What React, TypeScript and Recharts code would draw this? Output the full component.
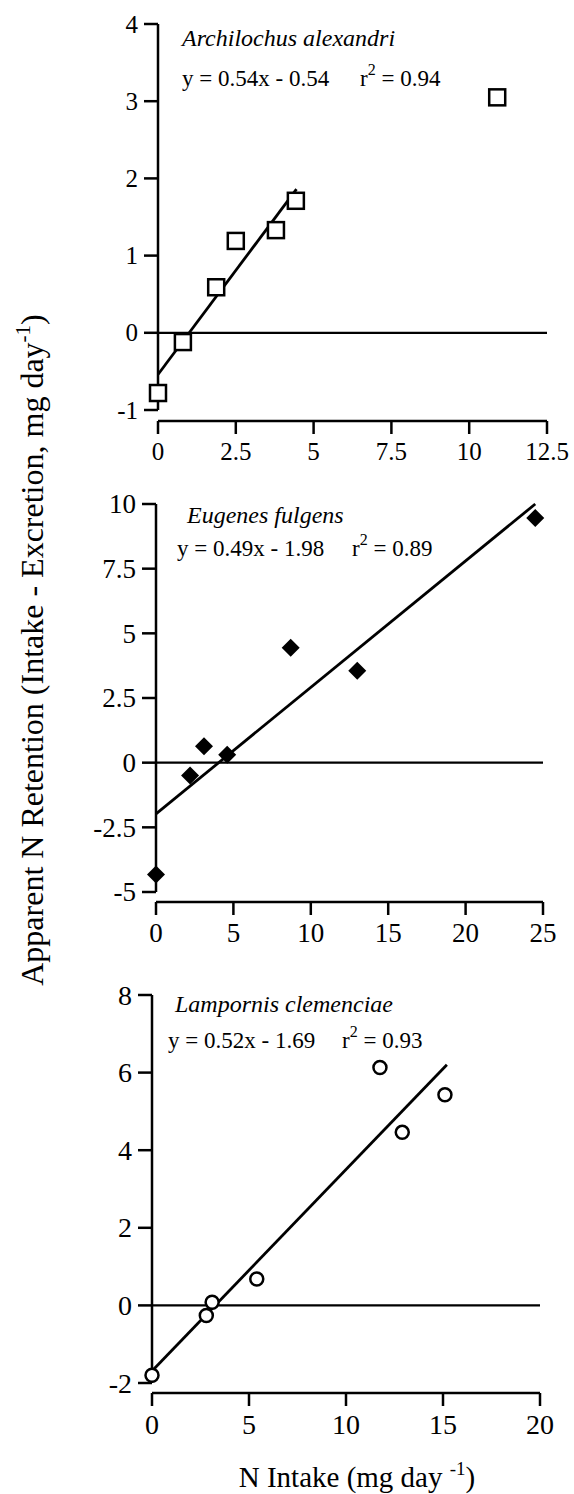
import React from "react";
import { ScatterChart, Scatter, XAxis, YAxis, ReferenceLine } from "recharts";

// values
const alexandri = [
  { x: 0, y: -0.78 },
  { x: 0.8, y: -0.12 },
  { x: 1.87, y: 0.59 },
  { x: 2.5, y: 1.19 },
  { x: 3.79, y: 1.33 },
  { x: 4.43, y: 1.71 },
  { x: 10.9, y: 3.05 },
];
const fulgens = [
  { x: 0, y: -4.32 },
  { x: 2.2, y: -0.5 },
  { x: 3.1, y: 0.63 },
  { x: 4.6, y: 0.31 },
  { x: 8.7, y: 4.44 },
  { x: 13.0, y: 3.55 },
  { x: 24.5, y: 9.46 },
];
const clemenciae = [
  { x: 0, y: -1.8 },
  { x: 2.8, y: -0.26 },
  { x: 3.1, y: 0.08 },
  { x: 5.4, y: 0.68 },
  { x: 11.75, y: 6.13 },
  { x: 12.9, y: 4.46 },
  { x: 15.1, y: 5.43 },
];

// fitted line end points
const fitAlexandri = [{ x: 0, y: -0.54 }, { x: 4.45, y: 1.86 }];
const fitFulgens = [{ x: 0, y: -1.98 }, { x: 24.5, y: 10.0 }];
const fitClemenciae = [{ x: 0, y: -1.69 }, { x: 15.2, y: 6.2 }];

const xTicks1 = [0, 2.5, 5, 7.5, 10, 12.5];
const yTicks1 = [-1, 0, 1, 2, 3, 4];
const xTicks2 = [0, 5, 10, 15, 20, 25];
const yTicks2 = [-5, -2.5, 0, 2.5, 5, 7.5, 10];
const xTicks3 = [0, 5, 10, 15, 20];
const yTicks3 = [-2, 0, 2, 4, 6, 8];

const FONT = "Liberation Serif";
const LW = 2.5;

const Square = (p: any) => (
  <rect x={p.cx - 8} y={p.cy - 8} width={16} height={16} fill="#fff" stroke="#000" strokeWidth={LW} />
);
const Diamond = (p: any) => (
  <polygon
    points={`${p.cx},${p.cy - 9} ${p.cx + 9},${p.cy} ${p.cx},${p.cy + 9} ${p.cx - 9},${p.cy}`}
    fill="#000"
  />
);
const Circle = (p: any) => (
  <circle cx={p.cx} cy={p.cy} r={6.5} fill="#fff" stroke="#000" strokeWidth={LW} />
);
const NoDot = () => <g />;

const makeTick = (fontSize: number, vertical: boolean) => (p: any) => (
  <text
    x={p.x}
    y={p.y}
    dy={vertical ? "0.34em" : "0.71em"}
    textAnchor={vertical ? "end" : "middle"}
    fontFamily={FONT}
    fontSize={fontSize}
    fill="#000"
  >
    {p.payload.value}
  </text>
);

type PanelProps = {
  top: number;
  height: number;
  margin: { top: number; right: number; bottom: number; left: number };
  xTicks: number[];
  yTicks: number[];
  yPad: number;
  data: { x: number; y: number }[];
  fit: { x: number; y: number }[];
  shape: any;
  fontSize: number;
};

const Panel = ({ top, height, margin, xTicks, yTicks, yPad, data, fit, shape, fontSize }: PanelProps) => {
  const yMin = yTicks[0];
  const yMax = yTicks[yTicks.length - 1];
  return (
    <div style={{ position: "absolute", left: 0, top }}>
      <ScatterChart width={574} height={height} margin={margin}>
        <XAxis
          type="number"
          dataKey="x"
          domain={[xTicks[0], xTicks[xTicks.length - 1]]}
          ticks={xTicks}
          interval={0}
          height={50}
          tickSize={13}
          tickMargin={8}
          axisLine={{ stroke: "#000", strokeWidth: LW }}
          tickLine={{ stroke: "#000", strokeWidth: LW }}
          tick={makeTick(fontSize, false)}
        />
        <YAxis
          type="number"
          dataKey="y"
          domain={[yMin, yMax]}
          ticks={yTicks}
          interval={0}
          width={80}
          padding={{ top: 0, bottom: yPad }}
          tickSize={14}
          tickMargin={6}
          axisLine={false}
          tickLine={{ stroke: "#000", strokeWidth: LW }}
          tick={makeTick(fontSize, true)}
        />
        <ReferenceLine
          segment={[{ x: xTicks[0], y: yMin }, { x: xTicks[0], y: yMax }]}
          stroke="#000"
          strokeWidth={LW}
        />
        <ReferenceLine y={0} stroke="#000" strokeWidth={2.2} />
        <Scatter data={fit} line={{ stroke: "#000", strokeWidth: 2.8 }} shape={NoDot} isAnimationActive={false} />
        <Scatter data={data} shape={shape} isAnimationActive={false} />
      </ScatterChart>
    </div>
  );
};

const Equation = ({ x, rx, y, text, r2 }: { x: number; rx: number; y: number; text: string; r2: string }) => (
  <>
    <text x={x} y={y} fontSize={23}>{text}</text>
    <text x={rx} y={y} fontSize={23}>
      r<tspan dy={-11} fontSize={16}>2</tspan>
      <tspan dy={11}> = {r2}</tspan>
    </text>
  </>
);

export default function App() {
  return (
    <div style={{ position: "absolute", left: 0, top: 0, width: 574, height: 1494, background: "#fff" }}>
      <Panel
        top={0}
        height={480}
        margin={{ top: 24, right: 27, bottom: 9, left: 78 }}
        xTicks={xTicks1}
        yTicks={yTicks1}
        yPad={11}
        data={alexandri}
        fit={fitAlexandri}
        shape={Square}
        fontSize={25}
      />
      <Panel
        top={480}
        height={480}
        margin={{ top: 24, right: 31, bottom: 8, left: 76 }}
        xTicks={xTicks2}
        yTicks={yTicks2}
        yPad={10}
        data={fulgens}
        fit={fitFulgens}
        shape={Diamond}
        fontSize={27}
      />
      <Panel
        top={960}
        height={490}
        margin={{ top: 35, right: 34, bottom: 7, left: 72 }}
        xTicks={xTicks3}
        yTicks={yTicks3}
        yPad={10}
        data={clemenciae}
        fit={fitClemenciae}
        shape={Circle}
        fontSize={28}
      />
      <svg
        width={574}
        height={1494}
        style={{ position: "absolute", left: 0, top: 0, pointerEvents: "none" }}
        fontFamily={FONT}
        fill="#000"
      >
        <text x={182} y={46} fontSize={24} fontStyle="italic">Archilochus alexandri</text>
        <Equation x={182} rx={360} y={86} text="y = 0.54x - 0.54" r2="0.94" />
        <text x={187} y={523} fontSize={24} fontStyle="italic">Eugenes fulgens</text>
        <Equation x={177} rx={352} y={556} text="y = 0.49x - 1.98" r2="0.89" />
        <text x={175} y={1012} fontSize={24} fontStyle="italic">Lampornis clemenciae</text>
        <Equation x={168} rx={342} y={1048} text="y = 0.52x - 1.69" r2="0.93" />
        <text x={43} y={650} fontSize={32} textAnchor="middle" transform="rotate(-90 43 650)">
          Apparent N Retention (Intake - Excretion, mg day<tspan dy={-13} fontSize={21}>-1</tspan>
          <tspan dy={13}>)</tspan>
        </text>
        <text x={357} y={1487} fontSize={29} textAnchor="middle">
          N Intake (mg day <tspan dy={-12} fontSize={19}>-1</tspan>
          <tspan dy={12}>)</tspan>
        </text>
      </svg>
    </div>
  );
}
